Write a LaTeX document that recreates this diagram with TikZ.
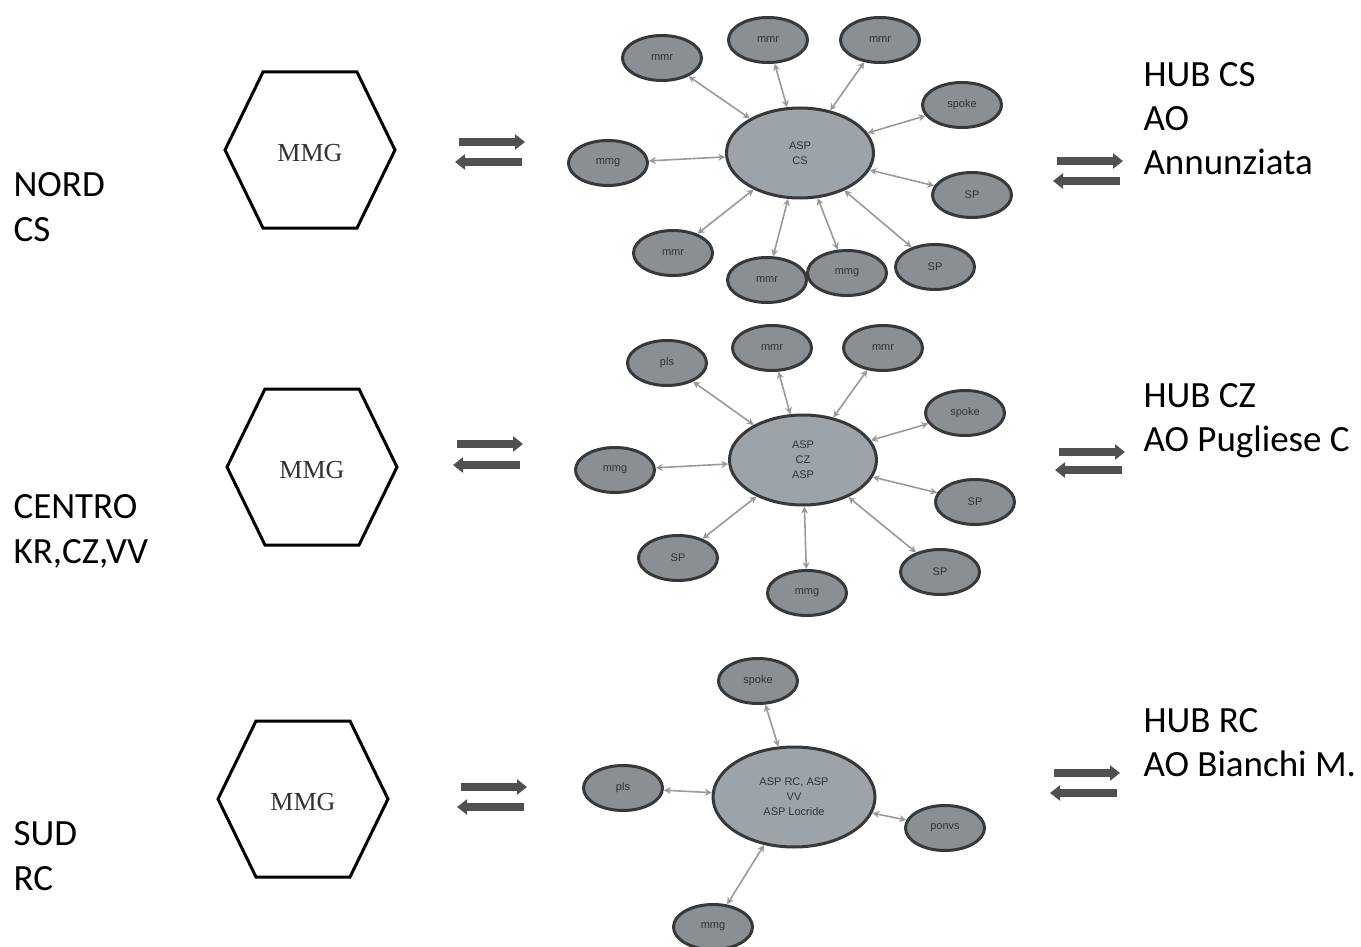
\documentclass[tikz,border=0pt]{standalone}
\usepackage{fontspec}
\setmainfont{Carlito}
\newfontfamily\mmgfont{Liberation Serif}
\newfontfamily\tinyfont{Liberation Sans}
\usetikzlibrary{arrows.meta,shapes.geometric}

\definecolor{satfill}{HTML}{8A8F94}
\definecolor{hubfill}{HTML}{9CA4AA}
\definecolor{rim}{HTML}{383838}
\definecolor{linkgray}{HTML}{9A9A9A}
\definecolor{bigarrow}{HTML}{505050}

\tikzset{
  sat/.style={ellipse, draw=rim, line width=3pt, fill=satfill,
    minimum width=79pt, minimum height=45pt, inner sep=0pt,
    font=\tinyfont\fontsize{11}{12}\selectfont, text=black!80},
  hub/.style={ellipse, draw=rim, line width=3pt, fill=hubfill,
    minimum width=147pt, minimum height=90pt, inner sep=0pt, align=center,
    font=\tinyfont\fontsize{11}{15}\selectfont, text=black!80},
  link/.style={draw=linkgray, line width=1.6pt,
    {Stealth[length=7pt,width=7pt,fill=linkgray]}-{Stealth[length=7pt,width=7pt,fill=linkgray]}},
  flow/.style={draw=bigarrow, line width=8pt, -{Triangle[length=10pt,width=15pt]}},
  area/.style={anchor=west, align=left, font=\fontsize{37}{45}\selectfont, text=black},
  hubtext/.style={anchor=west, align=left, font=\fontsize{37}{44}\selectfont, text=black},
  hexa/.pic={
    \draw[line width=3pt, black] (-85,0) -- (-47,-78) -- (47,-78) -- (85,0) -- (47,78) -- (-47,78) -- cycle;
    \node[font=\mmgfont\fontsize{26}{30}\selectfont, text=black!80] at (0,3) {MMG};
  }
}

\begin{document}
\begin{tikzpicture}[x=1pt, y=-1pt]
\useasboundingbox[fill=white] (0,0) rectangle (1361,947);

% ---- area labels ----
\node[area] (nord)   at (10,207) {NORD\\CS};
\node[area] (centro) at (10,531) {CENTRO\\KR,CZ,VV};
\node[area] (sud)    at (10,856) {SUD\\RC};

% ---- MMG hexagons ----
\pic at (310,150) {hexa};
\pic at (312,467) {hexa};
\pic at (303,799) {hexa};

% ---- exchange arrows ----
\draw[flow] (459,142) -- (525,142);
\draw[flow] (522,162) -- (455,162);
\draw[flow] (457,444) -- (523,444);
\draw[flow] (520,465) -- (453,465);
\draw[flow] (461,787) -- (527,787);
\draw[flow] (524,807) -- (457,807);
\draw[flow] (1057,161) -- (1123,161);
\draw[flow] (1120,181) -- (1053,181);
\draw[flow] (1059,452) -- (1125,452);
\draw[flow] (1122,470) -- (1055,470);
\draw[flow] (1054,773) -- (1120,773);
\draw[flow] (1117,793) -- (1050,793);

% ---- hub labels ----
\node[hubtext] (hubcs) at (1140,119) {HUB CS\\AO\\Annunziata};
\node[hubtext] (hubcz) at (1140,421) {HUB CZ\\AO Pugliese C};
\node[hubtext] (hubrc) at (1140,743) {HUB RC\\AO Bianchi M.};

% ---- network north ----
\node[hub] (n0) at (800,153) {ASP\\CS};
\node[sat] (n1)  at (662,58)  {mmr};
\node[sat] (n2)  at (768,40)  {mmr};
\node[sat] (n3)  at (880,40)  {mmr};
\node[sat] (n4)  at (962,105) {spoke};
\node[sat] (n5)  at (608,163) {mmg};
\node[sat] (n6)  at (972,195) {SP};
\node[sat] (n7)  at (673,253) {mmr};
\node[sat] (n8)  at (767,280) {mmr};
\node[sat] (n9)  at (847,273) {mmg};
\node[sat] (n10) at (935,267) {SP};
\foreach \s in {n1,n2,n3,n4,n5,n6,n7,n8,n9,n10}
  \draw[link] (n0) -- (\s);

% ---- network centre ----
\node[hub] (c0) at (803,460) {ASP\\CZ\\ASP};
\node[sat] (c1) at (667,363) {pls};
\node[sat] (c2) at (772,348) {mmr};
\node[sat] (c3) at (883,348) {mmr};
\node[sat] (c4) at (965,413) {spoke};
\node[sat] (c5) at (615,470) {mmg};
\node[sat] (c6) at (975,502) {SP};
\node[sat] (c7) at (678,558) {SP};
\node[sat] (c8) at (807,593) {mmg};
\node[sat] (c9) at (940,572) {SP};
\foreach \s in {c1,c2,c3,c4,c5,c6,c7,c8,c9}
  \draw[link] (c0) -- (\s);

% ---- network south ----
\node[hub, minimum width=162pt, minimum height=100pt] (s0) at (794,797) {ASP RC, ASP\\VV\\ASP Locride};
\node[sat] (s1) at (758,681) {spoke};
\node[sat] (s2) at (623,788) {pls};
\node[sat] (s3) at (945,828) {ponvs};
\node[sat] (s4) at (713,927) {mmg};
\foreach \s in {s1,s2,s3,s4}
  \draw[link] (s0) -- (\s);
\end{tikzpicture}
\end{document}
